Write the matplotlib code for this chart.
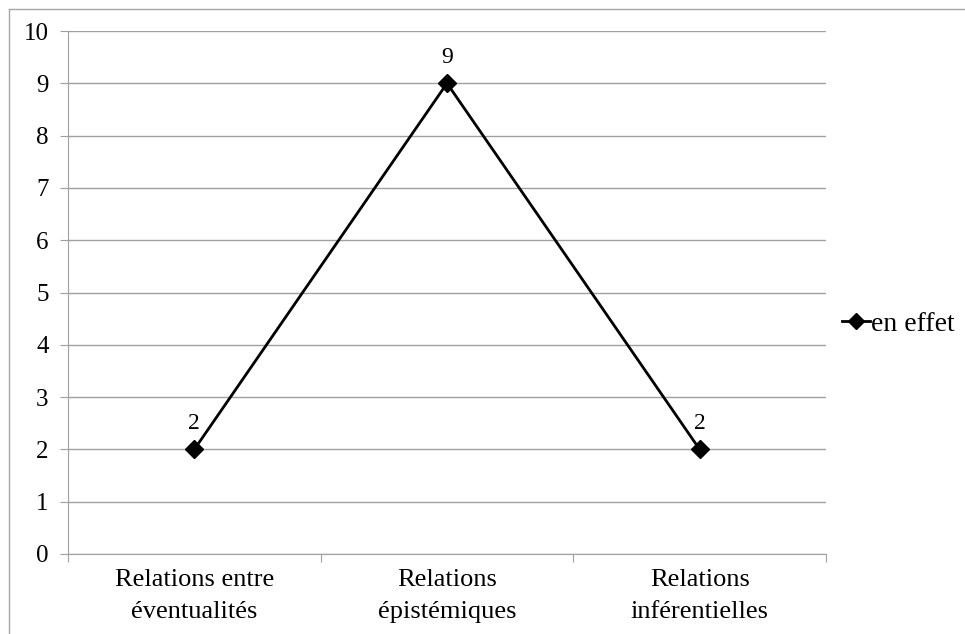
import matplotlib.pyplot as plt
from matplotlib.lines import Line2D

categories = ["Relations entre\néventualités", "Relations\népistémiques", "Relations\ninférentielles"]
values = [2, 9, 2]
series_name = "en effet"
yticks = list(range(0, 11))

plt.rcParams["font.family"] = "serif"
plt.rcParams["font.serif"] = ["Liberation Serif", "DejaVu Serif", "Times New Roman"]

fig = plt.figure(figsize=(9.65, 6.34), dpi=100)
ax = fig.add_axes([68/965, 80/634, (826-68)/965, (554-31)/634])

x = list(range(len(categories)))
ax.plot(x, values, color="black", linewidth=2, marker="D", markersize=9,
        label=series_name, zorder=3, clip_on=False)
for xi, v in zip(x, values):
    ax.annotate(str(v), (xi, v), xytext=(0, 11), textcoords="offset points",
                ha="center", va="bottom", fontsize=17)

ax.set_xlim(-0.5, len(categories) - 0.5)
ax.set_ylim(0, 10)
ax.set_yticks(yticks)
ax.set_yticklabels([str(t) for t in yticks], fontsize=18)
ax.yaxis.grid(True, color="#a0a0a0", linewidth=1)
ax.set_axisbelow(True)

ax.set_xticks([i + 0.5 for i in range(-1, len(categories))])
ax.set_xticklabels([])
ax.tick_params(axis="x", length=6, color="#a0a0a0", direction="out")
ax.set_xticks(x, minor=True)
ax.set_xticklabels(categories, minor=True, fontsize=19, linespacing=1.55)
ax.tick_params(axis="x", which="minor", length=0, pad=11)
ax.tick_params(axis="y", length=6, color="#a0a0a0", pad=8)

for s in ["top", "right"]:
    ax.spines[s].set_visible(False)
ax.spines["left"].set_color("#a0a0a0")
ax.spines["bottom"].set_color("#a0a0a0")

handle = Line2D([0], [0], color="black", linewidth=2, marker="D", markersize=8)
fig.legend([handle], [series_name], loc="center left",
           bbox_to_anchor=(842/965, 1 - 324/634), frameon=False,
           prop={"size": 20}, handlelength=1.0,
           handletextpad=0.05, borderaxespad=0, borderpad=0)

# outer chart border (top and left visible)
fig.add_artist(Line2D([9/965, 1], [1 - 9/634, 1 - 9/634], color="#a6a6a6", linewidth=1))
fig.add_artist(Line2D([9/965, 9/965], [0, 1 - 9/634], color="#a6a6a6", linewidth=1))

fig.savefig("out.png", dpi=100)
